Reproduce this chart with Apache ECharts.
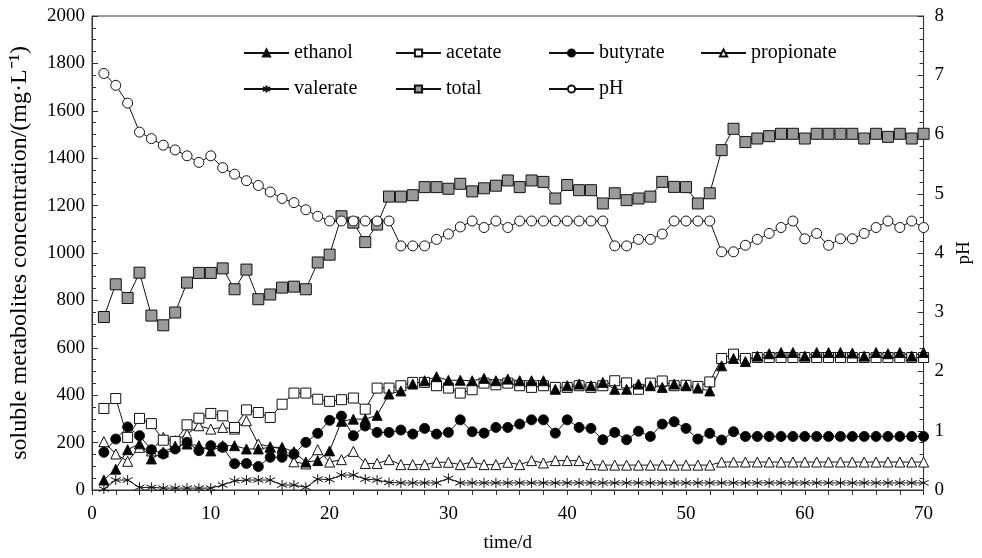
<!DOCTYPE html>
<html>
<head>
<meta charset="utf-8">
<script src="https://cdn.jsdelivr.net/npm/echarts@6/dist/echarts.min.js"></script>
<style>html,body{margin:0;padding:0;background:#fff}#c{width:982px;height:558px}</style>
</head>
<body>
<div id="c"></div>
<script>
const days = Array.from({length: 70}, (_, i) => i + 1);
const ethanol = [42,88,170,195,131,160,185,194,187,165,187,187,173,173,180,180,161,118,124,165,290,299,299,315,405,418,447,461,478,463,463,461,471,461,468,461,461,461,425,440,447,440,454,425,425,447,440,433,447,440,430,418,524,555,542,565,575,580,580,565,580,580,580,578,565,580,575,580,565,580];
const acetate = [344,386,222,302,280,210,205,275,303,323,313,264,338,327,306,362,409,409,383,374,381,388,341,430,430,440,454,454,440,430,409,423,451,444,451,440,433,440,433,433,440,433,440,461,452,425,451,460,440,442,437,456,555,573,555,559,559,559,559,559,559,559,559,559,559,559,559,559,559,559];
const butyrate = [159,215,266,229,170,152,173,201,166,187,180,111,112,99,138,138,152,201,239,294,312,229,270,243,243,253,236,260,236,243,296,246,240,264,264,278,296,296,240,296,264,260,212,243,212,248,226,278,288,260,215,239,211,246,226,226,226,226,226,226,226,226,226,226,226,226,226,226,226,226];
const propionate = [204,152,121,180,165,222,208,236,271,257,264,257,292,194,183,173,119,110,170,118,128,163,112,112,128,107,107,107,117,117,107,117,107,107,117,107,124,114,124,124,124,107,105,105,105,105,105,105,105,105,105,105,118,118,118,118,118,118,118,118,118,118,118,118,118,118,118,118,118,118];
const valerate = [4,42,42,11,11,8,8,8,8,8,21,39,42,42,42,21,21,11,46,44,63,63,46,42,32,30,30,30,30,49,30,30,30,30,30,30,30,30,30,30,30,30,30,30,30,30,30,30,30,30,30,30,30,30,30,30,30,30,30,30,30,30,30,30,30,30,30,30,30,30];
const total = [730,868,810,917,736,695,749,875,916,916,935,847,930,805,825,854,858,847,960,993,1155,1128,1046,1120,1238,1238,1244,1278,1278,1271,1292,1260,1273,1284,1306,1278,1306,1300,1230,1287,1265,1265,1209,1252,1223,1230,1238,1300,1279,1278,1209,1252,1434,1524,1468,1483,1493,1503,1503,1483,1503,1503,1503,1503,1483,1503,1490,1503,1483,1503];
const pH = [7.03,6.83,6.53,6.04,5.93,5.82,5.74,5.64,5.53,5.64,5.44,5.33,5.22,5.14,5.03,4.92,4.85,4.73,4.62,4.54,4.54,4.54,4.54,4.54,4.54,4.12,4.12,4.12,4.23,4.32,4.44,4.54,4.43,4.54,4.43,4.54,4.54,4.54,4.54,4.54,4.54,4.54,4.54,4.12,4.12,4.23,4.23,4.32,4.54,4.54,4.54,4.54,4.02,4.02,4.13,4.23,4.33,4.43,4.54,4.24,4.33,4.13,4.24,4.24,4.33,4.43,4.54,4.43,4.54,4.43];
const xTicks = [0,10,20,30,40,50,60,70];
const yLeftTicks = [0,200,400,600,800,1000,1200,1400,1600,1800,2000];
const yRightTicks = [0,1,2,3,4,5,6,7,8];

const pair = arr => days.map((d, i) => [d, arr[i]]);
const FONT = '"Liberation Serif", "Times New Roman", serif';
const INK = '#111';
const star = 'path://M5,0L5,10M0.67,2.5L9.33,7.5M0.67,7.5L9.33,2.5';

function mk(name, data, symbol, fill, size, yIdx) {
  return {
    name, type: 'line', data: pair(data), yAxisIndex: yIdx || 0,
    symbol, symbolSize: size, showSymbol: true,
    lineStyle: {color: INK, width: 1},
    itemStyle: {color: fill, borderColor: INK, borderWidth: 1},
    emphasis: {disabled: true}, animation: false
  };
}

const legendBase = {
  orient: 'vertical', itemWidth: 45, itemHeight: 9, itemGap: 16,
  textStyle: {fontFamily: FONT, fontSize: 20, color: '#000'},
  selectedMode: false, padding: 0
};

const chart = echarts.init(document.getElementById('c'), null, {renderer: 'canvas'});
chart.setOption({
  animation: false,
  backgroundColor: '#fff',
  grid: {left: 92, right: 53, top: 16, bottom: 67, show: true, borderColor: '#333', borderWidth: 1, backgroundColor: 'transparent'},
  legend: [
    Object.assign({}, legendBase, {left: 243, top: 43, data: ['ethanol', 'valerate']}),
    Object.assign({}, legendBase, {left: 395, top: 43, data: ['acetate', 'total']}),
    Object.assign({}, legendBase, {left: 548, top: 43, data: ['butyrate', 'pH']}),
    Object.assign({}, legendBase, {left: 700, top: 43, data: ['propionate']})
  ],
  xAxis: {
    type: 'value', min: xTicks[0], max: xTicks[xTicks.length - 1], interval: 10,
    name: 'time/d', nameLocation: 'middle', nameGap: 44,
    nameTextStyle: {fontFamily: FONT, fontSize: 19, color: '#000'},
    axisLine: {lineStyle: {color: '#333'}},
    axisTick: {inside: false, length: 5, lineStyle: {color: '#333'}},
    minorTick: {show: true, splitNumber: 5, length: 5, lineStyle: {color: '#333'}},
    axisLabel: {fontFamily: FONT, fontSize: 19, color: '#000', margin: 15},
    splitLine: {show: false}
  },
  yAxis: [
    {
      type: 'value', min: yLeftTicks[0], max: yLeftTicks[yLeftTicks.length - 1], interval: 200,
      name: 'soluble metabolites concentration/(mg·L⁻¹)', nameLocation: 'middle', nameGap: 60, nameRotate: 90,
      nameTextStyle: {fontFamily: FONT, fontSize: 24, color: '#000'},
      axisLine: {show: true, lineStyle: {color: '#333'}},
      axisTick: {inside: true, length: 6, lineStyle: {color: '#333'}},
      minorTick: {show: true, splitNumber: 4, length: 4, lineStyle: {color: '#333'}},
      axisLabel: {fontFamily: FONT, fontSize: 19, color: '#000', margin: 7, formatter: v => String(v)},
      splitLine: {show: false}
    },
    {
      type: 'value', min: yRightTicks[0], max: yRightTicks[yRightTicks.length - 1], interval: 1, position: 'right',
      name: 'pH', nameLocation: 'middle', nameGap: 30, nameRotate: 90,
      nameTextStyle: {fontFamily: FONT, fontSize: 19, color: '#000'},
      axisLine: {show: true, lineStyle: {color: '#333'}},
      axisTick: {inside: true, length: 6, lineStyle: {color: '#333'}},
      minorTick: {show: true, splitNumber: 5, length: 4, lineStyle: {color: '#333'}},
      axisLabel: {fontFamily: FONT, fontSize: 19, color: '#000', margin: 11},
      splitLine: {show: false}
    }
  ],
  series: [
    mk('valerate', valerate, star, 'rgba(0,0,0,0)', 10),
    mk('propionate', propionate, 'triangle', '#fff', 10),
    mk('butyrate', butyrate, 'circle', '#000', 10),
    mk('acetate', acetate, 'rect', '#fff', 10),
    mk('ethanol', ethanol, 'triangle', '#000', 10),
    mk('total', total, 'rect', '#9a9a9a', 11),
    mk('pH', pH, 'circle', '#fff', 10, 1)
  ]
});
</script>
</body>
</html>
